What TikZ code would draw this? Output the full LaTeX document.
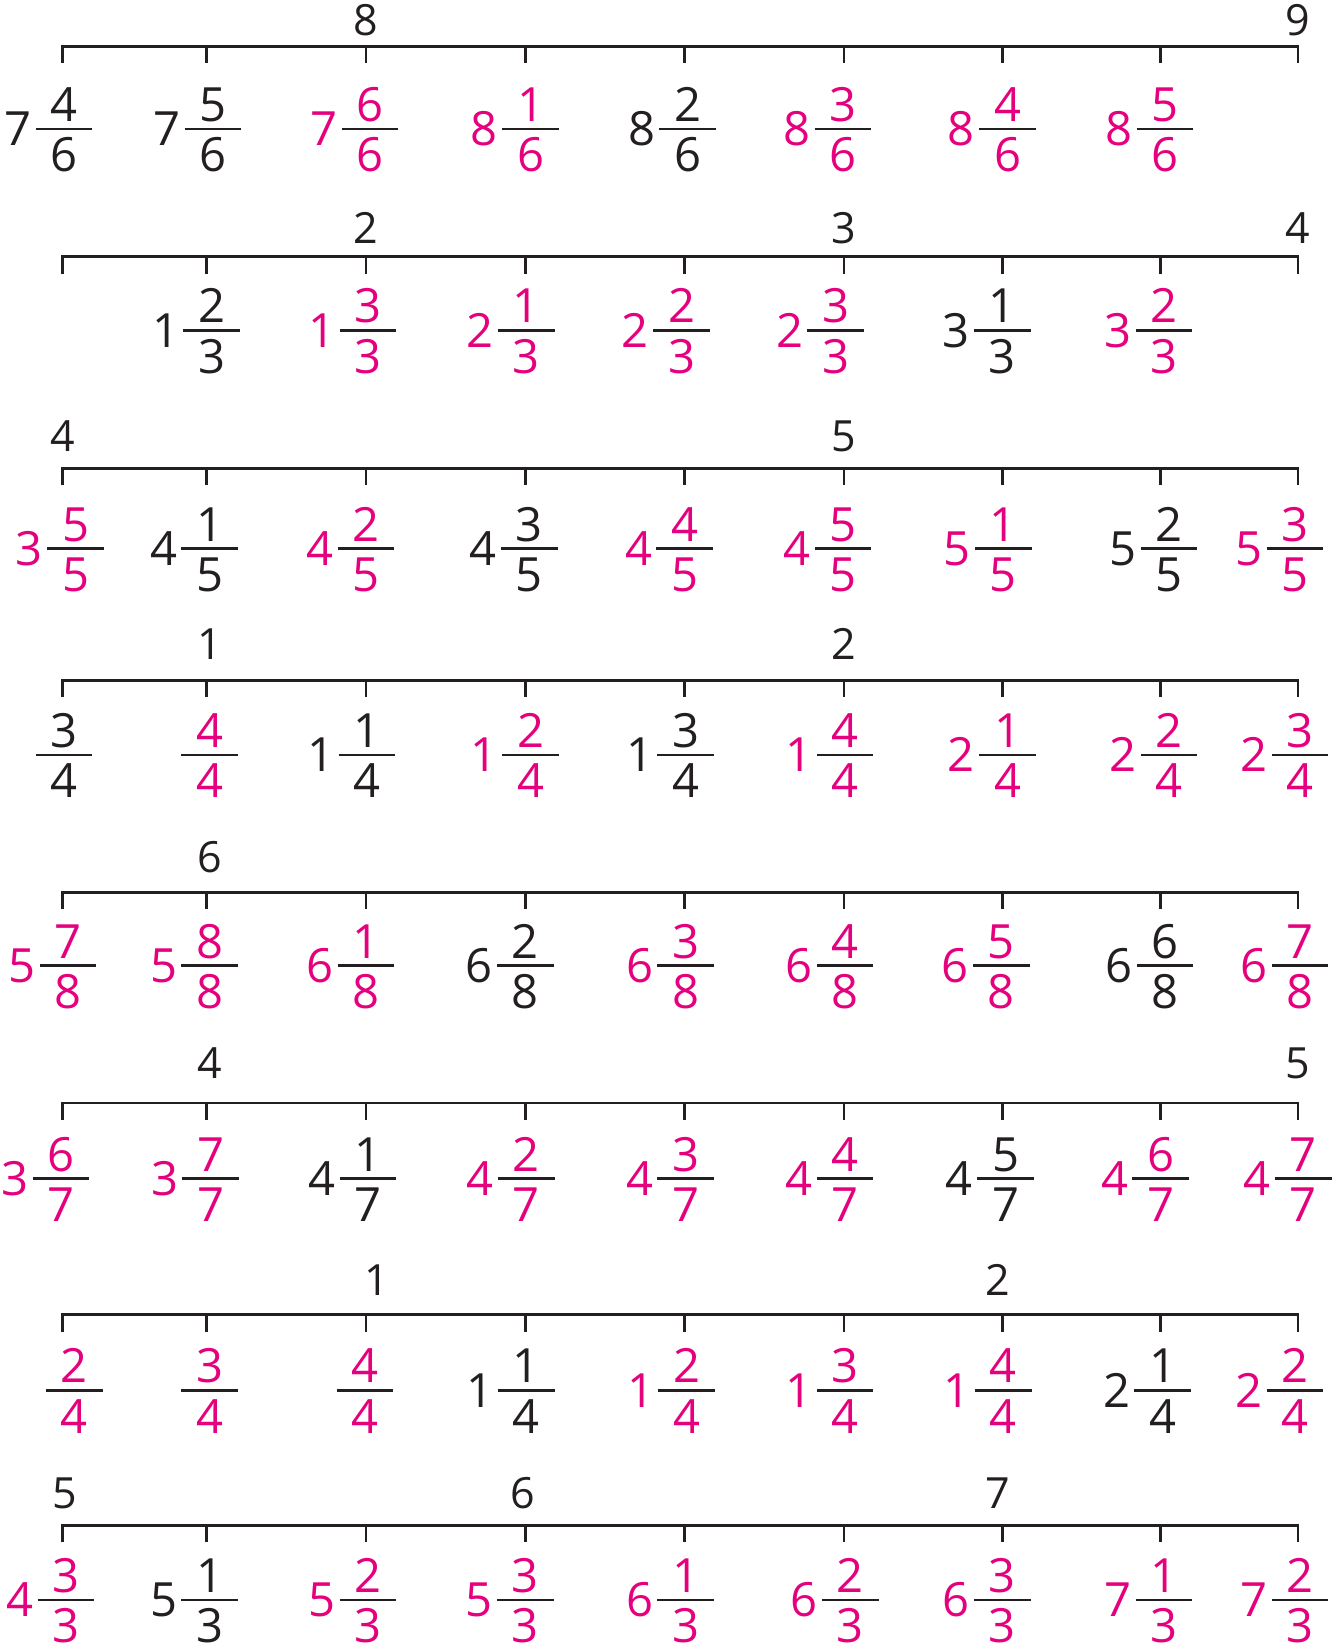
\documentclass[tikz,border=0pt]{standalone}
\usepackage{fontspec}
\setmainfont{Open Sans}
\definecolor{pk}{HTML}{E5007D}
\definecolor{ink}{HTML}{231F20}
\tikzset{
  dig/.style={font=\fontsize{45}{45}\selectfont, inner sep=0pt, anchor=base, text=ink},
  lab/.style={font=\fontsize{41}{41}\selectfont, inner sep=0pt, anchor=base, text=ink},
  axisline/.style={draw=ink, line width=2.7pt},
  fbar/.style={draw=ink, line width=2.5pt},
  pinkd/.style={text=pk},
  blackd/.style={text=ink},
}
% mixed number: name, x, bar y, style, whole, num, den
\newcommand\MF[7]{%
  \draw[fbar] (#2-27,#3) -- (#2+27,#3);
  \node[dig,#4] (#1w) at (#2-44,#3+16) {#5};
  \node[dig,#4] (#1n) at (#2,#3-7) {#6};
  \node[dig,#4] (#1d) at (#2,#3+41) {#7};
}
% proper fraction: name, x, bar y, style, num, den
\newcommand\PF[6]{%
  \draw[fbar] (#2-27,#3) -- (#2+27,#3);
  \node[dig,#4] (#1n) at (#2,#3-7) {#5};
  \node[dig,#4] (#1d) at (#2,#3+41) {#6};
}
% axis at y
\newcommand\AX[1]{%
  \draw[axisline] (60,#1+16) -- (60,#1) -- (1238,#1) -- (1238,#1+16);
  \foreach \t in {197,349,501,653,805,956,1107} \draw[axisline] (\t,#1) -- (\t,#1+16);
}
\begin{document}
\begin{tikzpicture}[x=1pt,y=-1pt]
\useasboundingbox (0,0) rectangle (1279,1568);

% ---------- Row 1 ----------
\AX{44}
\node[lab] (l1a) at (349,34) {8};
\node[lab] (l1b) at (1238,34) {9};
\MF{r1a}{61}{123}{blackd}{7}{4}{6}
\MF{r1b}{203}{123}{blackd}{7}{5}{6}
\MF{r1c}{353}{123}{pinkd}{7}{6}{6}
\MF{r1d}{506}{123}{pinkd}{8}{1}{6}
\MF{r1e}{656}{123}{blackd}{8}{2}{6}
\MF{r1f}{804}{123}{pinkd}{8}{3}{6}
\MF{r1g}{961}{123}{pinkd}{8}{4}{6}
\MF{r1h}{1111}{123}{pinkd}{8}{5}{6}

% ---------- Row 2 ----------
\AX{245}
\node[lab] (l2a) at (349,232) {2};
\node[lab] (l2b) at (805,232) {3};
\node[lab] (l2c) at (1238,232) {4};
\MF{r2a}{202}{315}{blackd}{1}{2}{3}
\MF{r2b}{351}{315}{pinkd}{1}{3}{3}
\MF{r2c}{502}{315}{pinkd}{2}{1}{3}
\MF{r2d}{650}{315}{pinkd}{2}{2}{3}
\MF{r2e}{797}{315}{pinkd}{2}{3}{3}
\MF{r2f}{956}{315}{blackd}{3}{1}{3}
\MF{r2g}{1110}{315}{pinkd}{3}{2}{3}

% ---------- Row 3 ----------
\AX{447}
\node[lab] (l3a) at (60,431) {4};
\node[lab] (l3b) at (805,431) {5};
\MF{r3a}{72}{523}{pinkd}{3}{5}{5}
\MF{r3b}{200}{523}{blackd}{4}{1}{5}
\MF{r3c}{349}{523}{pinkd}{4}{2}{5}
\MF{r3d}{505}{523}{blackd}{4}{3}{5}
\MF{r3e}{653}{523}{pinkd}{4}{4}{5}
\MF{r3f}{804}{523}{pinkd}{4}{5}{5}
\MF{r3g}{957}{523}{pinkd}{5}{1}{5}
\MF{r3h}{1115}{523}{blackd}{5}{2}{5}
\MF{r3i}{1235}{523}{pinkd}{5}{3}{5}

% ---------- Row 4 ----------
\AX{649}
\node[lab] (l4a) at (200,629) {1};
\node[lab] (l4b) at (805,629) {2};
\PF{r4a}{61}{720}{blackd}{3}{4}
\PF{r4b}{200}{720}{pinkd}{4}{4}
\MF{r4c}{350}{720}{blackd}{1}{1}{4}
\MF{r4d}{506}{720}{pinkd}{1}{2}{4}
\MF{r4e}{654}{720}{blackd}{1}{3}{4}
\MF{r4f}{806}{720}{pinkd}{1}{4}{4}
\MF{r4g}{961}{720}{pinkd}{2}{1}{4}
\MF{r4h}{1115}{720}{pinkd}{2}{2}{4}
\MF{r4i}{1240}{720}{pinkd}{2}{3}{4}

% ---------- Row 5 ----------
\AX{851}
\node[lab] (l5a) at (200,832) {6};
\MF{r5a}{65}{921}{pinkd}{5}{7}{8}
\MF{r5b}{200}{921}{pinkd}{5}{8}{8}
\MF{r5c}{349}{921}{pinkd}{6}{1}{8}
\MF{r5d}{501}{921}{blackd}{6}{2}{8}
\MF{r5e}{654}{921}{pinkd}{6}{3}{8}
\MF{r5f}{806}{921}{pinkd}{6}{4}{8}
\MF{r5g}{955}{921}{pinkd}{6}{5}{8}
\MF{r5h}{1111}{921}{blackd}{6}{6}{8}
\MF{r5i}{1240}{921}{pinkd}{6}{7}{8}

% ---------- Row 6 ----------
\AX{1052}
\node[lab] (l6a) at (200,1029) {4};
\node[lab] (l6b) at (1238,1029) {5};
\MF{r6a}{58}{1124}{pinkd}{3}{6}{7}
\MF{r6b}{201}{1124}{pinkd}{3}{7}{7}
\MF{r6c}{351}{1124}{blackd}{4}{1}{7}
\MF{r6d}{502}{1124}{pinkd}{4}{2}{7}
\MF{r6e}{654}{1124}{pinkd}{4}{3}{7}
\MF{r6f}{806}{1124}{pinkd}{4}{4}{7}
\MF{r6g}{959}{1124}{blackd}{4}{5}{7}
\MF{r6h}{1107}{1124}{pinkd}{4}{6}{7}
\MF{r6i}{1243}{1124}{pinkd}{4}{7}{7}

% ---------- Row 7 ----------
\AX{1254}
\node[lab] (l7a) at (359,1236) {1};
\node[lab] (l7b) at (952,1236) {2};
\PF{r7a}{71}{1326}{pinkd}{2}{4}
\PF{r7b}{200}{1326}{pinkd}{3}{4}
\PF{r7c}{348}{1326}{pinkd}{4}{4}
\MF{r7d}{502}{1326}{blackd}{1}{1}{4}
\MF{r7e}{655}{1326}{pinkd}{1}{2}{4}
\MF{r7f}{806}{1326}{pinkd}{1}{3}{4}
\MF{r7g}{957}{1326}{pinkd}{1}{4}{4}
\MF{r7h}{1109}{1326}{blackd}{2}{1}{4}
\MF{r7i}{1235}{1326}{pinkd}{2}{2}{4}

% ---------- Row 8 ----------
\AX{1455}
\node[lab] (l8a) at (62,1439) {5};
\node[lab] (l8b) at (499,1439) {6};
\node[lab] (l8c) at (952,1439) {7};
\MF{r8a}{63}{1526}{pinkd}{4}{3}{3}
\MF{r8b}{200}{1526}{blackd}{5}{1}{3}
\MF{r8c}{351}{1526}{pinkd}{5}{2}{3}
\MF{r8d}{501}{1526}{pinkd}{5}{3}{3}
\MF{r8e}{654}{1526}{pinkd}{6}{1}{3}
\MF{r8f}{811}{1526}{pinkd}{6}{2}{3}
\MF{r8g}{956}{1526}{pinkd}{6}{3}{3}
\MF{r8h}{1110}{1526}{pinkd}{7}{1}{3}
\MF{r8i}{1240}{1526}{pinkd}{7}{2}{3}
\end{tikzpicture}
\end{document}
